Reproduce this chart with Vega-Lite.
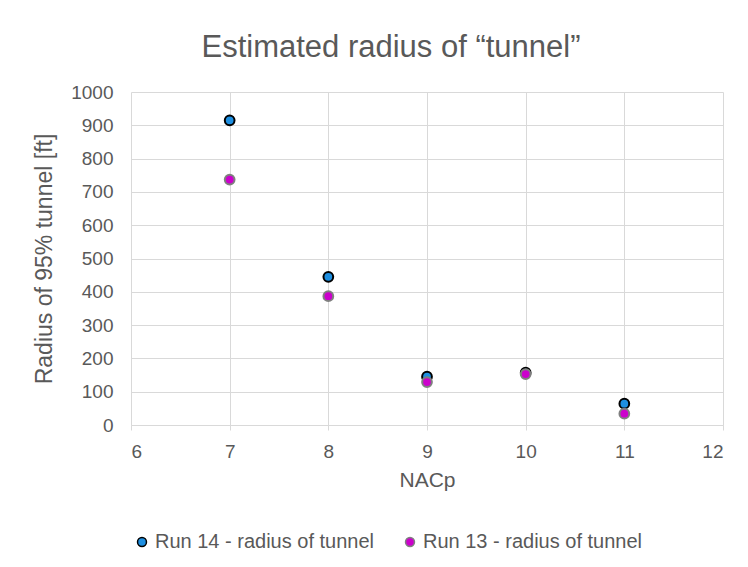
{
  "$schema": "https://vega.github.io/schema/vega-lite/v6.json",
  "autosize": {"type": "none"},
  "width": 592,
  "height": 333,
  "padding": {"left": 131, "top": 92, "right": 25, "bottom": 142},
  "background": "white",
  "config": {
    "font": "Liberation Sans",
    "view": {"stroke": null}
  },
  "title": {
    "text": "Estimated radius of “tunnel”",
    "fontSize": 31,
    "fontWeight": "normal",
    "color": "#595959",
    "anchor": "middle",
    "dx": -36,
    "offset": 19
  },
  "data": {
    "values": [
      {"NACp": 7, "radius": 915, "series": "Run 14 - radius of tunnel"},
      {"NACp": 8, "radius": 445, "series": "Run 14 - radius of tunnel"},
      {"NACp": 9, "radius": 145, "series": "Run 14 - radius of tunnel"},
      {"NACp": 10, "radius": 157, "series": "Run 14 - radius of tunnel"},
      {"NACp": 11, "radius": 64, "series": "Run 14 - radius of tunnel"},
      {"NACp": 7, "radius": 737, "series": "Run 13 - radius of tunnel"},
      {"NACp": 8, "radius": 387, "series": "Run 13 - radius of tunnel"},
      {"NACp": 9, "radius": 129, "series": "Run 13 - radius of tunnel"},
      {"NACp": 10, "radius": 153, "series": "Run 13 - radius of tunnel"},
      {"NACp": 11, "radius": 34, "series": "Run 13 - radius of tunnel"}
    ]
  },
  "mark": {"type": "point", "filled": false, "shape": "circle", "size": 95, "strokeWidth": 2, "opacity": 1, "fillOpacity": 1},
  "encoding": {
    "x": {
      "field": "NACp",
      "type": "quantitative",
      "scale": {"domain": [6, 12], "nice": false, "zero": false},
      "axis": {
        "values": [6, 7, 8, 9, 10, 11, 12],
        "title": "NACp",
        "titleFontSize": 21,
        "titleFontWeight": "normal",
        "titleColor": "#595959",
        "titlePadding": 8,
        "labelFontSize": 19,
        "labelColor": "#595959",
        "labelPadding": 12,
        "gridColor": "#d9d9d9",
        "domainColor": "#d9d9d9",
        "tickColor": "#d9d9d9",
        "tickSize": 5
      }
    },
    "y": {
      "field": "radius",
      "type": "quantitative",
      "scale": {"domain": [0, 1000], "nice": false},
      "axis": {
        "values": [0, 100, 200, 300, 400, 500, 600, 700, 800, 900, 1000],
        "format": "d",
        "title": "Radius of 95% tunnel [ft]",
        "titleFontSize": 23,
        "titleFontWeight": "normal",
        "titleColor": "#595959",
        "titlePadding": 14,
        "labelFontSize": 19,
        "labelColor": "#595959",
        "labelPadding": 18,
        "gridColor": "#d9d9d9",
        "domain": false,
        "ticks": false
      }
    },
    "fill": {
      "field": "series",
      "type": "nominal",
      "scale": {"domain": ["Run 14 - radius of tunnel", "Run 13 - radius of tunnel"], "range": ["#1e8fe1", "#cc00cc"]},
      "legend": {
        "orient": "none",
        "legendX": 1,
        "legendY": 440,
        "direction": "horizontal",
        "title": null,
        "labelFontSize": 20,
        "labelLimit": 0,
        "labelColor": "#595959",
        "symbolSize": 80,
        "symbolStrokeWidth": 1.5,
        "labelOffset": 3,
        "columnPadding": 25
      }
    },
    "stroke": {
      "field": "series",
      "type": "nominal",
      "scale": {"domain": ["Run 14 - radius of tunnel", "Run 13 - radius of tunnel"], "range": ["#000000", "#7f7f7f"]},
      "legend": null
    }
  }
}
